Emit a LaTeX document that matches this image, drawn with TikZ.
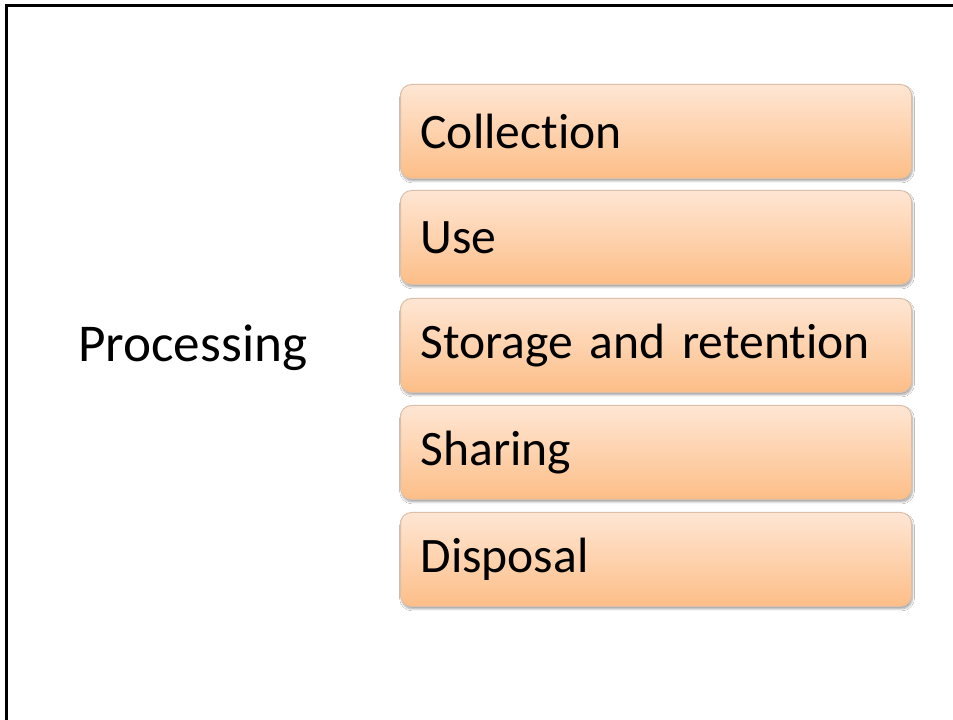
\documentclass[tikz,border=0pt]{standalone}
\usepackage{fontspec}
\setmainfont{Carlito}[Ligatures=NoCommon]
\usetikzlibrary{shadows.blur}
\definecolor{stagetop}{HTML}{FEE6D4}
\definecolor{stagebot}{HTML}{FDBE87}
\definecolor{stageline}{HTML}{DDBFA8}
\begin{document}
\begin{tikzpicture}[x=1pt,y=1pt,
  stagebox/.style={rounded corners=11pt, draw=stageline, line width=1pt,
    top color=stagetop, bottom color=stagebot,
    blur shadow={shadow xshift=1pt, shadow yshift=-2.5pt, shadow blur steps=6, shadow opacity=35},
    minimum width=511pt, minimum height=94pt, text width=471pt,
    inner xsep=20pt, align=left, anchor=north west, font=\fontsize{49.6}{58}\selectfont},
  label/.style={font=\fontsize{53.2}{62}\selectfont}]
\useasboundingbox (0,0) rectangle (953,720);
\fill[white] (0,0) rectangle (953,720);
% frame: only the top and left edges fall inside the page
\draw[line width=3pt] (6,-5) -- (6,714) -- (960,714);
\node[stagebox] (collection) at (400,636) {Collection};
\node[stagebox] (use) at (400,530) {Use};
\node[stagebox] (storage) at (400,422) {Storage and retention};
\node[stagebox] (sharing) at (400,315) {Sharing};
\node[stagebox] (disposal) at (400,208) {Disposal};
\node[label, anchor=west, inner sep=0pt] (processing) at (78,372) {Processing};
\end{tikzpicture}
\end{document}
